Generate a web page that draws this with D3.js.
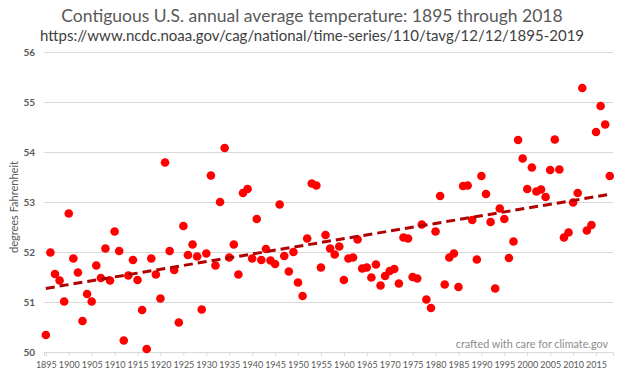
<!DOCTYPE html>
<html>
<head>
<meta charset="utf-8">
<script src="https://cdn.jsdelivr.net/npm/d3@7"></script>
<style>
  body { margin: 0; background: #fff; }
  svg { display: block; }
</style>
</head>
<body>
<svg id="chart" width="620" height="373"></svg>
<script>
// annual average temperature, contiguous U.S., deg F
const firstYear = 1895;
const temps = [
  50.34, 51.99, 51.56, 51.43, 51.01, 52.77, 51.87, 51.59, 50.62, 51.16,
  51.01, 51.73, 51.48, 52.07, 51.43, 52.41, 52.02, 50.23, 51.53, 51.84,
  51.44, 50.84, 50.06, 51.87, 51.55, 51.07, 53.79, 52.02, 51.64, 50.59,
  52.52, 51.94, 52.15, 51.91, 50.85, 51.97, 53.53, 51.73, 53.00, 54.08,
  51.89, 52.15, 51.55, 53.18, 53.26, 51.87, 52.66, 51.84, 52.06, 51.83,
  51.76, 52.95, 51.92, 51.61, 52.00, 51.39, 51.12, 52.27, 53.37, 53.33,
  51.69, 52.34, 52.07, 51.95, 52.11, 51.44, 51.87, 51.89, 52.25, 51.67,
  51.69, 51.49, 51.75, 51.33, 51.52, 51.62, 51.66, 51.37, 52.29, 52.27,
  51.50, 51.47, 52.55, 51.05, 50.88, 52.41, 53.12, 51.35, 51.89, 51.97,
  51.30, 53.32, 53.33, 52.64, 51.85, 53.52, 53.16, 52.60, 51.27, 52.87,
  52.66, 51.88, 52.21, 54.24, 53.87, 53.26, 53.69, 53.21, 53.25, 53.10,
  53.64, 54.25, 53.65, 52.29, 52.39, 52.99, 53.18, 55.28, 52.43, 52.54,
  54.40, 54.92, 54.55, 53.52
];
const years = temps.map((t, i) => firstYear + i);
const xTicks = d3.range(1895, 2016, 5);
const yTicks = [50, 51, 52, 53, 54, 55, 56];

const data = years.map((y, i) => ({ year: y, temp: temps[i] }));

const svg = d3.select("#chart");
const font = "Lato, 'Open Sans', sans-serif";

const x = d3.scaleLinear().domain([1894.6, 2018.7]).range([44, 613]);
const y = d3.scaleLinear().domain([50, 56]).range([352, 52]);

// title + source
svg.append("text")
  .attr("x", 312).attr("y", 22)
  .attr("text-anchor", "middle")
  .style("font-family", font).style("font-size", "17.5px").style("fill", "#595959")
  .text("Contiguous U.S. annual average temperature: 1895 through 2018");

svg.append("text")
  .attr("x", 312).attr("y", 41)
  .attr("text-anchor", "middle")
  .style("font-family", font).style("font-size", "15px").style("fill", "#404040")
  .text("https://www.ncdc.noaa.gov/cag/national/time-series/110/tavg/12/12/1895-2019");

// gridlines
svg.append("g")
  .attr("transform", "translate(44,0)")
  .call(d3.axisLeft(y).tickValues(yTicks).tickSize(-(613 - 44)).tickFormat(""))
  .call(g => g.select(".domain").remove())
  .call(g => g.selectAll("line").attr("stroke", "#d9d9d9"));

// y labels
svg.append("g").selectAll("text")
  .data(yTicks)
  .enter().append("text")
  .attr("x", 35)
  .attr("y", d => y(d))
  .attr("dy", "0.35em")
  .attr("text-anchor", "end")
  .style("font-family", font).style("font-size", "10px").style("font-weight", "bold")
  .style("fill", "#595959")
  .text(d => d);

svg.append("text")
  .attr("transform", `translate(18,${(y(50) + y(56)) / 2 + 5}) rotate(-90)`)
  .attr("text-anchor", "middle")
  .style("font-family", font).style("font-size", "11px").style("fill", "#595959")
  .text("degrees Fahrenheit");

// x axis
const xAxis = svg.append("g")
  .attr("transform", `translate(0,${y(50)})`)
  .call(d3.axisBottom(x).tickValues(xTicks).tickSize(4).tickFormat(d3.format("d")));
xAxis.select(".domain").attr("stroke", "#d9d9d9");
xAxis.selectAll("line").attr("stroke", "#d9d9d9");
xAxis.selectAll("text")
  .style("font-family", font).style("font-size", "9px").style("fill", "#595959")
  .attr("dy", "1em");

// watermark
svg.append("text")
  .attr("x", 608).attr("y", 348)
  .attr("text-anchor", "end")
  .style("font-family", font).style("font-size", "10.8px").style("fill", "#8c8c8c")
  .text("crafted with care for climate.gov");

// points
svg.append("g").selectAll("circle")
  .data(data)
  .enter().append("circle")
  .attr("cx", d => x(d.year))
  .attr("cy", d => y(d.temp))
  .attr("r", 4.3)
  .style("fill", "#ff0000");

// linear trend (least squares)
const mx = d3.mean(data, d => d.year);
const my = d3.mean(data, d => d.temp);
const slope = d3.sum(data, d => (d.year - mx) * (d.temp - my)) / d3.sum(data, d => (d.year - mx) ** 2);
const fit = yr => my + slope * (yr - mx);
const ends = [years[0], years[years.length - 1]];

svg.append("path")
  .datum(ends)
  .attr("d", d3.line().x(d => x(d)).y(d => y(fit(d))))
  .style("fill", "none")
  .style("stroke", "#b00000")
  .style("stroke-width", 3)
  .style("stroke-dasharray", "9,5");
</script>
</body>
</html>
